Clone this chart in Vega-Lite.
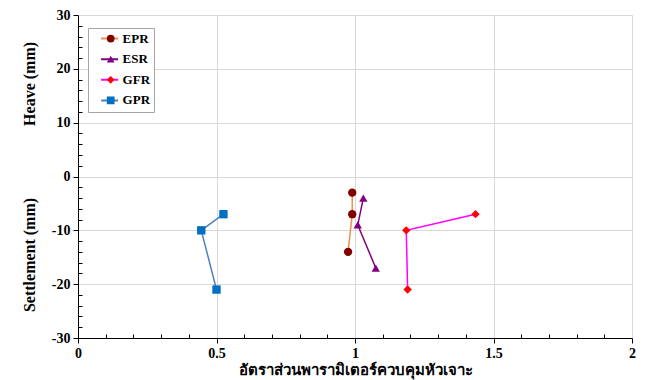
{
  "$schema": "https://vega.github.io/schema/vega-lite/v6.json",
  "autosize": "none",
  "width": 554,
  "height": 323,
  "padding": {"left": 78, "top": 15, "right": 18, "bottom": 42},
  "background": "white",
  "config": {
    "view": {"stroke": null},
    "axis": {"labelFont": "Liberation Serif", "labelFontWeight": "bold", "labelFontSize": 14, "labelColor": "black", "titleFont": "Liberation Serif", "titleFontWeight": "bold", "titleColor": "black", "domainColor": "black", "tickColor": "black", "gridColor": "#d9d9d9", "gridWidth": 1}
  },
  "data": {"values": [
    {"series": "EPR", "ratio": 0.99, "disp": -3, "k": 1},
    {"series": "EPR", "ratio": 0.99, "disp": -7, "k": 2},
    {"series": "EPR", "ratio": 0.975, "disp": -14, "k": 3},
    {"series": "ESR", "ratio": 1.03, "disp": -4, "k": 1},
    {"series": "ESR", "ratio": 1.01, "disp": -9, "k": 2},
    {"series": "ESR", "ratio": 1.075, "disp": -17, "k": 3},
    {"series": "GFR", "ratio": 1.435, "disp": -7, "k": 1},
    {"series": "GFR", "ratio": 1.185, "disp": -10, "k": 2},
    {"series": "GFR", "ratio": 1.19, "disp": -21, "k": 3},
    {"series": "GPR", "ratio": 0.525, "disp": -7, "k": 1},
    {"series": "GPR", "ratio": 0.445, "disp": -10, "k": 2},
    {"series": "GPR", "ratio": 0.5, "disp": -21, "k": 3}
  ]},
  "encoding": {
    "x": {"field": "ratio", "type": "quantitative",
      "scale": {"domain": [0, 2], "nice": false, "zero": false},
      "axis": {
        "title": "อัตราส่วนพารามิเตอร์ควบคุมหัวเจาะ",
        "titleFontSize": 15, "titlePadding": 2,
        "values": [0,0.1,0.2,0.3,0.4,0.5,0.6,0.7,0.8,0.9,1,1.1,1.2,1.3,1.4,1.5,1.6,1.7,1.8,1.9,2],
        "labelExpr": "round(datum.value*10) % 5 == 0 ? '' + round(datum.value*10)/10 : ''",
        "gridOpacity": {"condition": {"test": "round(datum.value*10) % 5 != 0", "value": 0}, "value": 1},
        "tickSize": {"condition": {"test": "round(datum.value*10) % 5 != 0", "value": -4}, "value": 5},
        "labelPadding": 3,
        "labelFlush": false
      }},
    "y": {"field": "disp", "type": "quantitative",
      "scale": {"domain": [-30, 30], "nice": false, "zero": false},
      "axis": {
        "title": "Settlement (mm)\u00a0\u00a0\u00a0\u00a0\u00a0\u00a0\u00a0\u00a0\u00a0\u00a0\u00a0\u00a0\u00a0\u00a0\u00a0\u00a0\u00a0\u00a0Heave (mm)",
        "titleFontSize": 16, "titlePadding": 14,
        "values": [-30,-28,-26,-24,-22,-20,-18,-16,-14,-12,-10,-8,-6,-4,-2,0,2,4,6,8,10,12,14,16,18,20,22,24,26,28,30],
        "labelExpr": "datum.value % 10 == 0 ? '' + datum.value : ''",
        "gridOpacity": {"condition": {"test": "datum.value % 10 != 0", "value": 0}, "value": 1},
        "tickSize": {"condition": {"test": "datum.value % 10 != 0", "value": -4}, "value": 5},
        "labelPadding": 3
      }}
  },
  "layer": [
    {
      "mark": {"type": "line", "strokeWidth": 1.5},
      "encoding": {
        "order": {"field": "k", "type": "quantitative"},
        "stroke": {"field": "series", "type": "nominal",
          "scale": {"domain": ["EPR", "ESR", "GFR", "GPR"], "range": ["#E9914F", "#800080", "#FF00FF", "#4F81BD"]},
          "legend": {"orient": "none", "legendX": 10, "legendY": 13, "title": null, "symbolType": "stroke", "symbolSize": 290, "symbolStrokeWidth": 2,
            "labelFont": "Liberation Serif", "labelFontWeight": "bold", "labelFontSize": 13, "labelColor": "black",
            "strokeColor": "#a6a6a6", "fillColor": "white", "padding": 3.6, "rowPadding": 6.6, "clipHeight": 14, "symbolOffset": 8, "labelOffset": 3}
        }
      }
    },
    {
      "mark": {"type": "point", "filled": true, "opacity": 1, "size": 70},
      "encoding": {
        "shape": {"field": "series", "type": "nominal",
          "scale": {"range": ["circle", "triangle-up", "diamond", "square"]}},
        "fill": {"field": "series", "type": "nominal",
          "scale": {"range": ["#800000", "#800080", "#FF0000", "#0070C0"]},
          "legend": {"orient": "none", "legendX": 14.6, "legendY": 13, "title": null, "symbolSize": 60, "symbolOpacity": 1,
            "labelExpr": "''", "labelFontSize": 13,
            "padding": 3.6, "rowPadding": 6.6, "clipHeight": 14, "symbolOffset": 8, "labelOffset": 3}
        }
      }
    }
  ]
}
